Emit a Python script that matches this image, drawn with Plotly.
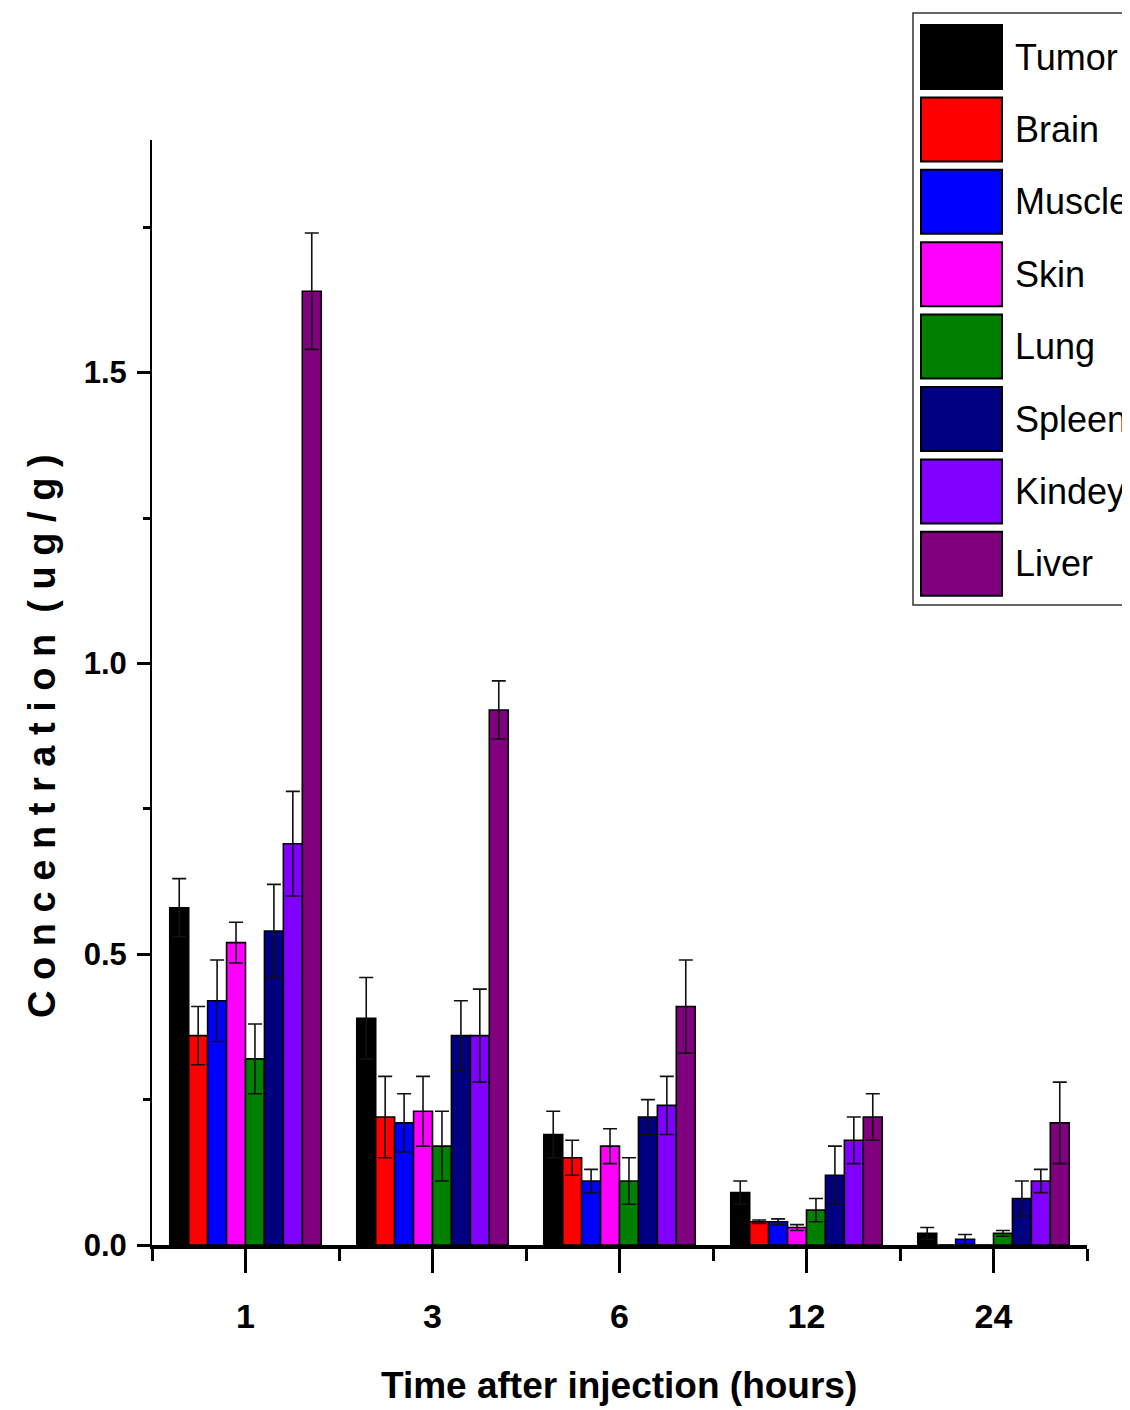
import plotly.graph_objects as go

# ---- data ----
times = ["1", "3", "6", "12", "24"]
organs = ["Tumor", "Brain", "Muscle", "Skin", "Lung", "Spleen", "Kindey", "Liver"]
colors = ["#000000", "#FF0000", "#0000FF", "#FF00FF", "#008000", "#000080", "#8000FF", "#800080"]

tumor = [0.58, 0.39, 0.19, 0.09, 0.02]
brain = [0.36, 0.22, 0.15, 0.04, 0.0]
muscle = [0.42, 0.21, 0.11, 0.04, 0.01]
skin = [0.52, 0.23, 0.17, 0.03, 0.0]
lung = [0.32, 0.17, 0.11, 0.06, 0.02]
spleen = [0.54, 0.36, 0.22, 0.12, 0.08]
kindey = [0.69, 0.36, 0.24, 0.18, 0.11]
liver = [1.64, 0.92, 0.41, 0.22, 0.21]

tumor_err = [0.05, 0.07, 0.04, 0.02, 0.01]
brain_err = [0.05, 0.07, 0.03, 0.003, 0.0]
muscle_err = [0.07, 0.05, 0.02, 0.005, 0.008]
skin_err = [0.035, 0.06, 0.03, 0.005, 0.0]
lung_err = [0.06, 0.06, 0.04, 0.02, 0.005]
spleen_err = [0.08, 0.06, 0.03, 0.05, 0.03]
kindey_err = [0.09, 0.08, 0.05, 0.04, 0.02]
liver_err = [0.10, 0.05, 0.08, 0.04, 0.07]

values = [tumor, brain, muscle, skin, lung, spleen, kindey, liver]
errors = [tumor_err, brain_err, muscle_err, skin_err, lung_err, spleen_err, kindey_err, liver_err]

y_ticks = [0.0, 0.5, 1.0, 1.5]

# ---- layout geometry (page pixels; the page body adds an 8px margin) ----
OFF = 8
W, H = 1130 - OFF, 1410 - OFF
L_PX, R_PX, T_PX, B_PX = 152, 1087, 140, 1245   # plot area in page pixels
ML, MT = L_PX - OFF, T_PX - OFF
MR, MB = W - (R_PX - OFF), H - (B_PX - OFF)
PW, PH = R_PX - L_PX, B_PX - T_PX

def px(x):
    return (x - L_PX) / PW

def py(y):
    return (B_PX - y) / PH

FONT = "Liberation Sans, Arial, sans-serif"

fig = go.Figure()
xpos = list(range(len(times)))
for name, col, v, e in zip(organs, colors, values, errors):
    fig.add_trace(go.Bar(
        x=xpos, y=v, name=name,
        marker=dict(color=col, line=dict(color="black", width=1.6)),
        error_y=dict(type="data", array=e, visible=True, color="#111111",
                     thickness=1.6, width=7),
        showlegend=False,
    ))

fig.update_layout(
    width=W, height=H,
    margin=dict(l=ML, r=MR, t=MT, b=MB, autoexpand=False),
    paper_bgcolor="white", plot_bgcolor="white",
    barmode="group", bargap=0.19, bargroupgap=0,
    font=dict(family=FONT, color="black"),
)

fig.update_xaxes(
    range=[-0.5, 4.5],
    tickvals=xpos, ticktext=times,
    ticks="outside", ticklen=24, tickwidth=2.5, tickcolor="black",
    tickfont=dict(family=FONT, size=34, color="black", weight="bold"),
    ticklabelstandoff=14,
    showline=True, linewidth=3.5, linecolor="black",
    showgrid=False, zeroline=False,
    minor=dict(tick0=0.5, dtick=1, ticks="outside", ticklen=12, tickwidth=2.5, tickcolor="black"),
)
fig.update_yaxes(
    range=[0, 1.9],
    tickvals=y_ticks, tickformat=".1f",
    ticks="outside", ticklen=13, tickwidth=2.5, tickcolor="black",
    tickfont=dict(family=FONT, size=31, color="black", weight="bold"),
    ticklabelstandoff=4,
    showline=True, linewidth=2, linecolor="black",
    showgrid=False, zeroline=False,
    minor=dict(dtick=0.25, ticks="outside", ticklen=7, tickwidth=2.5, tickcolor="black"),
)

# axis titles
fig.add_annotation(
    text="Time after injection (hours)", xref="paper", yref="paper",
    x=px(619), y=py(1385), xanchor="center", yanchor="middle", showarrow=False,
    font=dict(family=FONT, size=37, color="black", weight="bold"),
)
fig.add_annotation(
    text="C o n c e n t r a t i o n  ( u g / g )", xref="paper", yref="paper",
    x=px(42), y=py(736), xanchor="center", yanchor="middle", showarrow=False,
    textangle=-90,
    font=dict(family=FONT, size=38, color="black", weight="bold"),
)

# legend box (drawn manually to match the large swatches)
fig.add_shape(type="rect", xref="paper", yref="paper",
              x0=px(913), x1=px(1140), y0=py(605), y1=py(13),
              line=dict(color="#333333", width=1.5), fillcolor="white", layer="above")
top0, pitch, sw_h = 25, 72.4, 64
for i, (name, col) in enumerate(zip(organs, colors)):
    t = top0 + i * pitch
    fig.add_shape(type="rect", xref="paper", yref="paper",
                  x0=px(921), x1=px(1002), y0=py(t + sw_h), y1=py(t),
                  line=dict(color="black", width=2), fillcolor=col, layer="above")
    fig.add_annotation(text=name, xref="paper", yref="paper",
                       x=px(1013), y=py(t + sw_h / 2), xanchor="left", yanchor="middle",
                       showarrow=False,
                       font=dict(family=FONT, size=36, color="black"))

fig.write_html("out.html")
